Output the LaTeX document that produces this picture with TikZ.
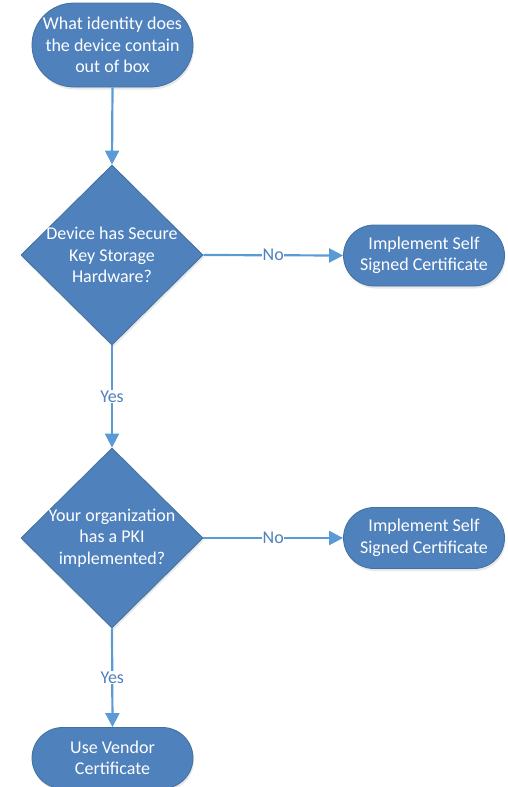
\documentclass[tikz,border=0pt]{standalone}
\usepackage{fontspec}
\setmainfont{Carlito}
\usetikzlibrary{shapes.geometric,arrows.meta,shadows}
\definecolor{boxfill}{HTML}{4F81BD}
\definecolor{boxedge}{HTML}{41719C}
\definecolor{flowline}{HTML}{5B9BD5}
\tikzset{
  x=1pt, y=-1pt,
  shapeshadow/.style={drop shadow={opacity=0.18, shadow xshift=1pt, shadow yshift=-2.5pt}},
  terminal/.style={shape=rectangle, draw=boxedge, line width=0.8pt, fill=boxfill,
    shapeshadow, minimum width=161pt, minimum height=#1, rounded corners=#1/2,
    inner sep=0pt, text=white, align=center, font=\fontsize{18}{21.5}\selectfont},
  terminal/.default=61pt,
  decision/.style={shape=diamond, draw=boxedge, line width=0.8pt, fill=boxfill,
    shapeshadow, minimum width=182pt, minimum height=180pt, inner sep=0pt},
  dtext/.style={text=white, align=center, font=\fontsize{18}{21.5}\selectfont, inner sep=0pt},
  flow/.style={draw=flowline, line width=2.2pt, -{Triangle[length=14pt,width=14pt]}},
  answer/.style={fill=white, text=boxfill, inner sep=0.5pt, font=\fontsize{18}{20}\selectfont}
}
\begin{document}
\begin{tikzpicture}
\useasboundingbox (0,0) rectangle (508,787);
\clip (0,0) rectangle (508,787);

% start
\node[terminal=84pt] (start) at (112.5,45) {What identity does\\the device contain\\out of box};

% first decision and its "No" branch
\node[decision] (keyhw) at (112,255) {};
\node[dtext] (keyhwtext) at (keyhw.center) {Device has Secure\\Key Storage\\Hardware?};
\node[terminal] (self1) at (424,255.5) {Implement Self\\Signed Certificate};

% second decision and its "No" branch
\node[decision] (pki) at (112,538) {};
\node[dtext] (pkitext) at (pki.center) {Your organization\\has a PKI\\implemented?};
\node[terminal] (self2) at (424,538) {Implement Self\\Signed Certificate};

% end
\node[terminal] (vendor) at (112.5,758) {Use Vendor\\Certificate};

% connectors
\draw[flow] (start.south) -- (keyhw.north);
\draw[flow] (keyhw.east) -- node[answer] (no1) {No} (self1.west);
\draw[flow] (keyhw.south) -- node[answer, pos=0.5] (yes1) {Yes} (pki.north);
\draw[flow] (pki.east) -- node[answer] (no2) {No} (self2.west);
\draw[flow] (pki.south) -- node[answer, pos=0.5] (yes2) {Yes} (vendor.north);
\end{tikzpicture}
\end{document}
